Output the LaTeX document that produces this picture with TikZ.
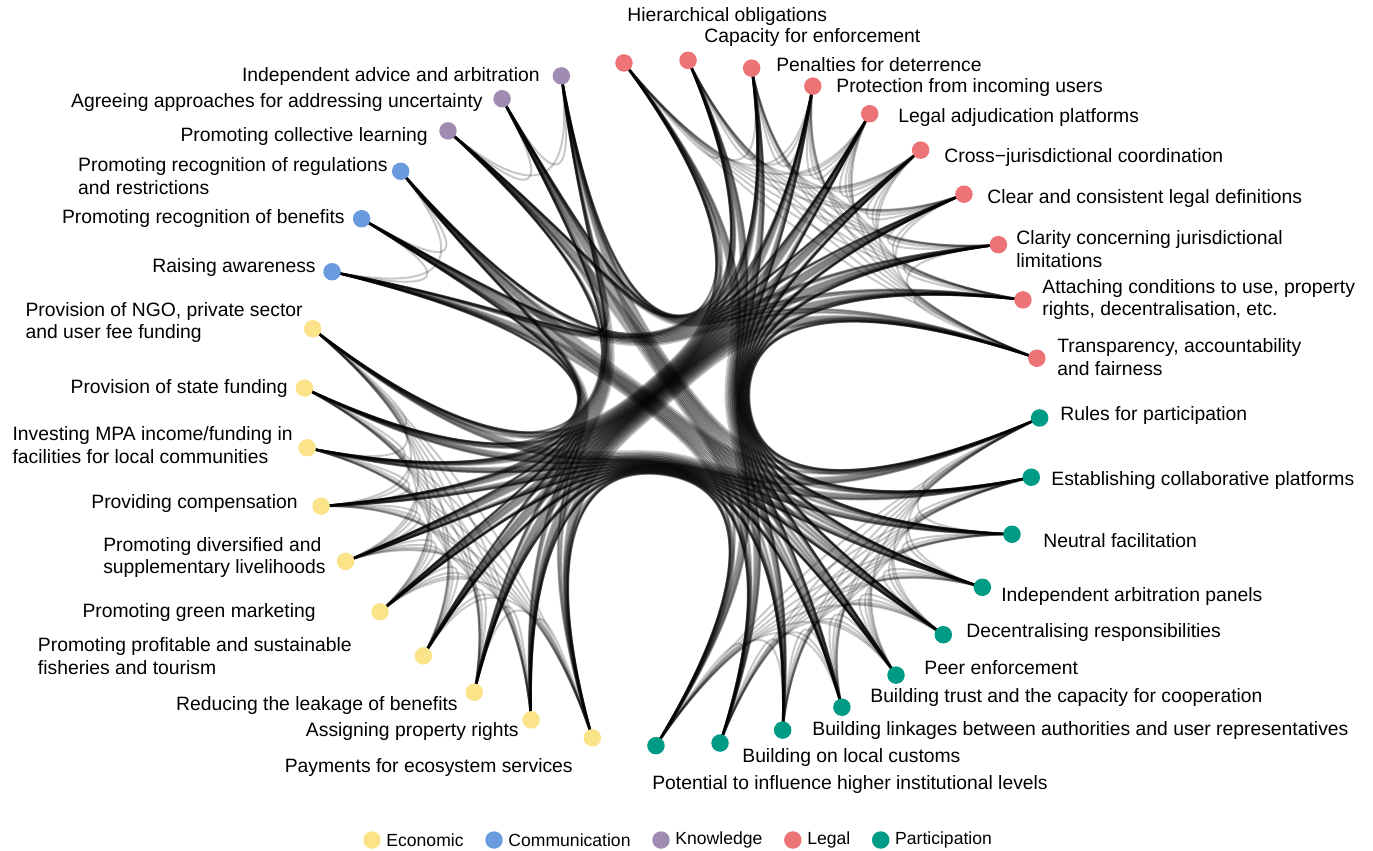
\documentclass[tikz,border=0pt]{standalone}
\usepackage{fontspec}
\setmainfont{Liberation Sans}
\usetikzlibrary{calc,positioning}
\definecolor{colE}{RGB}{251,227,138}
\definecolor{colC}{RGB}{106,155,222}
\definecolor{colK}{RGB}{160,140,178}
\definecolor{colL}{RGB}{237,116,118}
\definecolor{colP}{RGB}{0,155,133}
\newcommand{\tens}{0.94}
% group of ring position #1 -> letter in #2
\newcommand{\setgrp}[2]{%
  \ifnum#1<10 \def#2{L}\else\ifnum#1<20 \def#2{P}\else
  \ifnum#1<30 \def#2{E}\else\ifnum#1<33 \def#2{C}\else\def#2{K}\fi\fi\fi\fi}

\begin{document}
\begin{tikzpicture}[x=0.02cm,y=-0.02cm,
  every node/.style={font=\fontsize{11}{13}\selectfont},
  edge/.style={line width=1.15pt,black,opacity=0.21},
  dot/.style={circle,inner sep=0pt,minimum size=0.35cm},
  labl/.style={inner sep=0pt,align=left},
  key/.style={inner sep=0pt,font=\fontsize{10}{12}\selectfont}]
\useasboundingbox (0,0) rectangle (1373,851);

\coordinate (O) at (672,403);
\foreach \k in {0,...,35}
  \coordinate (p\k) at ($(O)+({10*\k-97.5}:368 and 343)$);
\coordinate (hL) at ($(O)+(-52.5:184 and 171.5)$);
\coordinate (hP) at ($(O)+(47.5:184 and 171.5)$);
\coordinate (hE) at ($(O)+(147.5:184 and 171.5)$);
\coordinate (hC) at ($(O)+(212.5:184 and 171.5)$);
\coordinate (hK) at ($(O)+(242.5:184 and 171.5)$);

% bundled edges, every pair of instruments
\foreach \i in {0,...,34}{
  \pgfmathtruncatemacro{\jfirst}{\i+1}
  \foreach \j in {\jfirst,...,35}{
    \setgrp{\i}{\ga}\setgrp{\j}{\gb}
    \ifx\ga\gb
      \coordinate (M) at ($(p\i)!0.5!(p\j)$);
      \coordinate (Q) at ($(M)!\tens!(h\ga)$);
      \draw[edge] (p\i) .. controls ($(p\i)!0.6667!(Q)$) and ($(p\j)!0.6667!(Q)$) .. (p\j);
    \else
      \coordinate (L1) at ($(p\i)!0.25!(p\j)$);
      \coordinate (L2) at ($(p\i)!0.5!(p\j)$);
      \coordinate (L3) at ($(p\i)!0.75!(p\j)$);
      \coordinate (Q1) at ($(L1)!\tens!(h\ga)$);
      \coordinate (Q2) at ($(L2)!\tens!(O)$);
      \coordinate (Q3) at ($(L3)!\tens!(h\gb)$);
      \coordinate (M12) at ($(Q1)!0.5!(Q2)$);
      \coordinate (M23) at ($(Q2)!0.5!(Q3)$);
      \coordinate (R) at ($(M12)!0.5!(M23)$);
      \draw[edge] (p\i) .. controls (Q1) and (M12) .. (R)
                        .. controls (M23) and (Q3) .. (p\j);
    \fi
  }
}

\foreach \k in {0,...,35}{
  \setgrp{\k}{\g}
  \node[dot,fill=col\g] (n\k) at (p\k) {};
}

% legal
\node[labl,anchor=west] (t0) at (627,17) {Hierarchical obligations};
\node[labl,anchor=west] (t1) at (704,38) {Capacity for enforcement};
\node[labl,anchor=west] (t2) at (776,65) {Penalties for deterrence};
\node[labl,anchor=west] (t3) at (836,88) {Protection from incoming users};
\node[labl,anchor=west] (t4) at (898,118) {Legal adjudication platforms};
\node[labl,anchor=west] (t5) at (944,158) {Cross−jurisdictional coordination};
\node[labl,anchor=west] (t6) at (987,199) {Clear and consistent legal definitions};
\node[labl,anchor=west] (t7) at (1016,249.5) {Clarity concerning jurisdictional\\limitations};
\node[labl,anchor=west] (t8) at (1042,299.5) {Attaching conditions to use, property\\rights, decentralisation, etc.};
\node[labl,anchor=west] (t9) at (1057,357.5) {Transparency, accountability\\and fairness};
% participation
\node[labl,anchor=west] (t10) at (1060,416) {Rules for participation};
\node[labl,anchor=west] (t11) at (1051,481) {Establishing collaborative platforms};
\node[labl,anchor=west] (t12) at (1043,541) {Neutral facilitation};
\node[labl,anchor=west] (t13) at (1001,596) {Independent arbitration panels};
\node[labl,anchor=west] (t14) at (966,633) {Decentralising responsibilities};
\node[labl,anchor=west] (t15) at (924,668) {Peer enforcement};
\node[labl,anchor=west] (t16) at (870,697) {Building trust and the capacity for cooperation};
\node[labl,anchor=west] (t17) at (812,730) {Building linkages between authorities and user representatives};
\node[labl,anchor=west] (t18) at (742,757) {Building on local customs};
\node[labl,anchor=west] (t19) at (652,784) {Potential to influence higher institutional levels};
% economic
\node[labl,anchor=east] (t20) at (573,767) {Payments for ecosystem services};
\node[labl,anchor=east] (t21) at (519,731) {Assigning property rights};
\node[labl,anchor=east] (t22) at (458,705) {Reducing the leakage of benefits};
\node[labl,anchor=east] (t23) at (352,656.5) {Promoting profitable and sustainable\\fisheries and tourism};
\node[labl,anchor=east] (t24) at (316,613) {Promoting green marketing};
\node[labl,anchor=east] (t25) at (326,557.5) {Promoting diversified and\\supplementary livelihoods};
\node[labl,anchor=east] (t26) at (298,504) {Providing compensation};
\node[labl,anchor=east] (t27) at (293,445.5) {Investing MPA income/funding in\\facilities for local communities};
\node[labl,anchor=east] (t28) at (288,389) {Provision of state funding};
\node[labl,anchor=east] (t29) at (303,322.5) {Provision of NGO, private sector\\and user fee funding};
% communication, knowledge
\node[labl,anchor=east] (t30) at (316,268) {Raising awareness};
\node[labl,anchor=east] (t31) at (345,219) {Promoting recognition of benefits};
\node[labl,anchor=east] (t32) at (388,176.5) {Promoting recognition of regulations\\and restrictions};
\node[labl,anchor=east] (t33) at (428,137) {Promoting collective learning};
\node[labl,anchor=east] (t34) at (483,103) {Agreeing approaches for addressing uncertainty};
\node[labl,anchor=east] (t35) at (540,77) {Independent advice and arbitration};

% legend
\node[dot,fill=colE] (kE) at (372,840) {};
\node[key,right=0.1cm of kE] (kEt) {Economic};
\node[dot,fill=colC,right=0.42cm of kEt] (kC) {};
\node[key,right=0.1cm of kC] (kCt) {Communication};
\node[dot,fill=colK,right=0.42cm of kCt] (kK) {};
\node[key,right=0.1cm of kK] (kKt) {Knowledge};
\node[dot,fill=colL,right=0.42cm of kKt] (kL) {};
\node[key,right=0.1cm of kL] (kLt) {Legal};
\node[dot,fill=colP,right=0.42cm of kLt] (kP) {};
\node[key,right=0.1cm of kP] (kPt) {Participation};
\end{tikzpicture}
\end{document}
